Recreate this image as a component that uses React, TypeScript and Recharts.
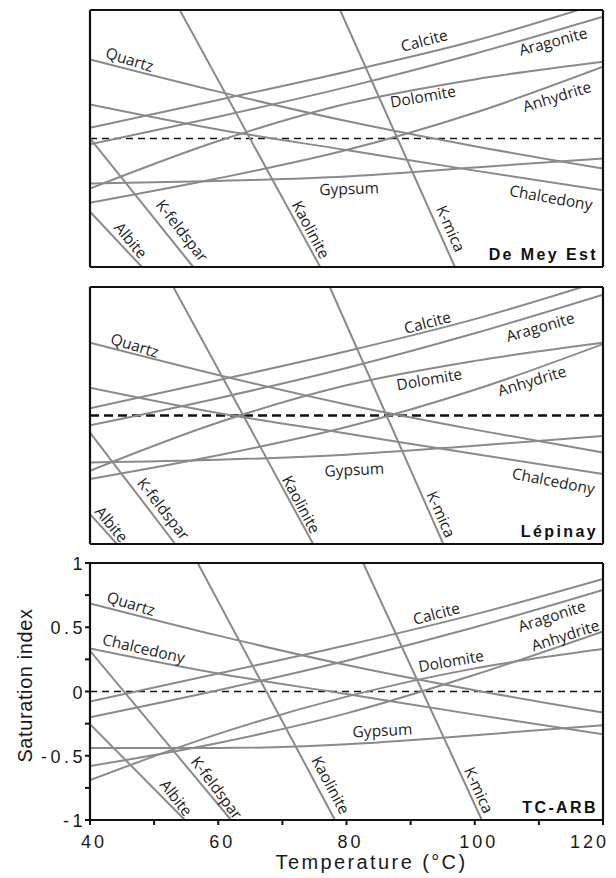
import React from 'react';
import { LineChart, Line, XAxis, YAxis, ReferenceLine, ReferenceDot } from 'recharts';

// ---------- shared axes ----------
const TEMPS = [40, 60, 80, 100, 120];
const X_TICKS = [40, 50, 60, 70, 80, 90, 100, 110, 120];
const Y_TICKS = [-1, -0.75, -0.5, -0.25, 0, 0.25, 0.5, 0.75, 1];
const X_LABELS = [40, 60, 80, 100, 120];
const Y_LABELS = [-1, -0.5, 0, 0.5, 1];

// ---------- De Mey Est (values at TEMPS) ----------
const DME_QUARTZ = [0.616, 0.365, 0.136, -0.06, -0.234];
const DME_CHALCEDONY = [0.265, 0.07, -0.09, -0.25, -0.402];
const DME_CALCITE = [0.083, 0.3, 0.52, 0.76, 1.06];
const DME_ARAGONITE = [-0.044, 0.17, 0.4, 0.66, 0.948];
const DME_DOLOMITE = [-0.39, -0.02, 0.27, 0.46, 0.597];
const DME_ANHYDRITE = [-0.5, -0.31, -0.09, 0.2, 0.558];
const DME_GYPSUM = [-0.35, -0.33, -0.295, -0.225, -0.156];
const DME_KAOLINITE_T = [54.0, 75.9];
const DME_KAOLINITE = [1, -1];
const DME_KMICA_T = [79.0, 96.9];
const DME_KMICA = [1, -1];
const DME_KFELDSPAR_T = [40, 56.1];
const DME_KFELDSPAR = [0.0, -1];
const DME_ALBITE_T = [40, 48.1];
const DME_ALBITE = [-0.57, -1];

// ---------- Lépinay ----------
const LEP_QUARTZ = [0.566, 0.315, 0.086, -0.11, -0.288];
const LEP_CHALCEDONY = [0.217, 0.02, -0.14, -0.3, -0.456];
const LEP_CALCITE = [0.056, 0.274, 0.5, 0.75, 1.05];
const LEP_ARAGONITE = [-0.076, 0.135, 0.37, 0.64, 0.94];
const LEP_DOLOMITE = [-0.43, -0.055, 0.235, 0.425, 0.566];
const LEP_ANHYDRITE = [-0.495, -0.31, -0.09, 0.2, 0.556];
const LEP_GYPSUM = [-0.366, -0.345, -0.305, -0.235, -0.159];
const LEP_KAOLINITE_T = [53.0, 74.8];
const LEP_KAOLINITE = [1, -1];
const LEP_KMICA_T = [77.4, 95.1];
const LEP_KMICA = [1, -1];
const LEP_KFELDSPAR_T = [40, 53.3];
const LEP_KFELDSPAR = [-0.133, -1];
const LEP_ALBITE_T = [40, 44.2];
const LEP_ALBITE = [-0.767, -1];

// ---------- TC-ARB ----------
const TCA_QUARTZ = [0.686, 0.435, 0.206, 0.01, -0.164];
const TCA_CHALCEDONY = [0.335, 0.14, -0.02, -0.18, -0.332];
const TCA_CALCITE = [-0.078, 0.14, 0.36, 0.6, 0.876];
const TCA_ARAGONITE = [-0.2, 0.01, 0.24, 0.5, 0.79];
const TCA_DOLOMITE = [-0.69, -0.33, -0.04, 0.18, 0.33];
const TCA_ANHYDRITE = [-0.58, -0.4, -0.17, 0.13, 0.468];
const TCA_GYPSUM = [-0.44, -0.44, -0.41, -0.34, -0.262];
const TCA_KAOLINITE_T = [56.8, 78.2];
const TCA_KAOLINITE = [1, -1];
const TCA_KMICA_T = [82.6, 101.1];
const TCA_KMICA = [1, -1];
const TCA_KFELDSPAR_T = [40, 62.0];
const TCA_KFELDSPAR = [0.317, -1];
const TCA_ALBITE_T = [40, 54.8];
const TCA_ALBITE = [-0.254, -1];

// ---------- label placement (temperature, SI, rotation) ----------
const DME_LABELS = [
  { name: 'Quartz', t: 46.2, si: 0.618, a: 17 },
  { name: 'Calcite', t: 92.1, si: 0.766, a: -15 },
  { name: 'Aragonite', t: 112.2, si: 0.759, a: -15 },
  { name: 'Dolomite', t: 91.9, si: 0.33, a: -10 },
  { name: 'Anhydrite', t: 112.8, si: 0.33, a: -17 },
  { name: 'Gypsum', t: 80.4, si: -0.387, a: -2 },
  { name: 'Chalcedony', t: 111.9, si: -0.457, a: 10 },
  { name: 'Albite', t: 46.4, si: -0.79, a: 50 },
  { name: 'K-feldspar', t: 54.4, si: -0.715, a: 52 },
  { name: 'Kaolinite', t: 74.5, si: -0.708, a: 62 },
  { name: 'K-mica', t: 96.3, si: -0.7, a: 66 },
];
const LEP_LABELS = [
  { name: 'Quartz', t: 47.0, si: 0.549, a: 17 },
  { name: 'Calcite', t: 92.6, si: 0.727, a: -15 },
  { name: 'Aragonite', t: 110.2, si: 0.692, a: -16 },
  { name: 'Dolomite', t: 92.9, si: 0.285, a: -10 },
  { name: 'Anhydrite', t: 108.9, si: 0.273, a: -17 },
  { name: 'Gypsum', t: 81.2, si: -0.418, a: -3 },
  { name: 'Chalcedony', t: 112.3, si: -0.507, a: 11 },
  { name: 'Albite', t: 43.4, si: -0.845, a: 50 },
  { name: 'K-feldspar', t: 51.5, si: -0.724, a: 52 },
  { name: 'Kaolinite', t: 73.0, si: -0.69, a: 62 },
  { name: 'K-mica', t: 94.8, si: -0.767, a: 66 },
];
const TCA_LABELS = [
  { name: 'Quartz', t: 46.4, si: 0.687, a: 17 },
  { name: 'Chalcedony', t: 48.4, si: 0.337, a: 13 },
  { name: 'Calcite', t: 94.0, si: 0.61, a: -15 },
  { name: 'Aragonite', t: 112.0, si: 0.59, a: -18 },
  { name: 'Anhydrite', t: 114.1, si: 0.44, a: -18 },
  { name: 'Dolomite', t: 96.3, si: 0.24, a: -10 },
  { name: 'Gypsum', t: 85.6, si: -0.3, a: -3 },
  { name: 'Albite', t: 53.5, si: -0.825, a: 52 },
  { name: 'K-feldspar', t: 59.8, si: -0.747, a: 53 },
  { name: 'Kaolinite', t: 77.6, si: -0.727, a: 62 },
  { name: 'K-mica', t: 100.7, si: -0.766, a: 66 },
];

const FONT_SANS = "'Liberation Sans', Arial, Helvetica, sans-serif";
const FONT_LABEL = "'Open Sans', 'Noto Sans', sans-serif";
const LINE_GRAY = '#8a8a8a';
const AXIS = '#111';

type Pt = { t: number; si: number };
const pts = (temps: number[], values: number[]): Pt[] => temps.map((t, i) => ({ t, si: values[i] }));

const makeSeries = (
  q: number[], ch: number[], ca: number[], ar: number[], dol: number[], anh: number[], gyp: number[],
  kaoT: number[], kao: number[], kmT: number[], km: number[], kfT: number[], kf: number[], abT: number[], ab: number[]
) => [
  { name: 'Quartz', data: pts(TEMPS, q) },
  { name: 'Chalcedony', data: pts(TEMPS, ch) },
  { name: 'Calcite', data: pts(TEMPS, ca) },
  { name: 'Aragonite', data: pts(TEMPS, ar) },
  { name: 'Dolomite', data: pts(TEMPS, dol) },
  { name: 'Anhydrite', data: pts(TEMPS, anh) },
  { name: 'Gypsum', data: pts(TEMPS, gyp) },
  { name: 'Kaolinite', data: pts(kaoT, kao) },
  { name: 'K-mica', data: pts(kmT, km) },
  { name: 'K-feldspar', data: pts(kfT, kf) },
  { name: 'Albite', data: pts(abT, ab) },
];

const DME_SERIES = makeSeries(DME_QUARTZ, DME_CHALCEDONY, DME_CALCITE, DME_ARAGONITE, DME_DOLOMITE, DME_ANHYDRITE, DME_GYPSUM,
  DME_KAOLINITE_T, DME_KAOLINITE, DME_KMICA_T, DME_KMICA, DME_KFELDSPAR_T, DME_KFELDSPAR, DME_ALBITE_T, DME_ALBITE);
const LEP_SERIES = makeSeries(LEP_QUARTZ, LEP_CHALCEDONY, LEP_CALCITE, LEP_ARAGONITE, LEP_DOLOMITE, LEP_ANHYDRITE, LEP_GYPSUM,
  LEP_KAOLINITE_T, LEP_KAOLINITE, LEP_KMICA_T, LEP_KMICA, LEP_KFELDSPAR_T, LEP_KFELDSPAR, LEP_ALBITE_T, LEP_ALBITE);
const TCA_SERIES = makeSeries(TCA_QUARTZ, TCA_CHALCEDONY, TCA_CALCITE, TCA_ARAGONITE, TCA_DOLOMITE, TCA_ANHYDRITE, TCA_GYPSUM,
  TCA_KAOLINITE_T, TCA_KAOLINITE, TCA_KMICA_T, TCA_KMICA, TCA_KFELDSPAR_T, TCA_KFELDSPAR, TCA_ALBITE_T, TCA_ALBITE);

const renderYTick = (p: any) => {
  const v = p.payload?.value;
  if (!Y_LABELS.includes(v)) return <g />;
  return (
    <text x={p.x + 3} y={p.y + 7} textAnchor="end" fontFamily={FONT_SANS} fontSize={18} letterSpacing={3.5} fill="#1a1a1a">
      {String(v)}
    </text>
  );
};

const renderXTick = (p: any) => {
  const v = p.payload?.value;
  if (!X_LABELS.includes(v)) return <g />;
  const last = v === X_LABELS[X_LABELS.length - 1];
  return (
    <text x={last ? p.x + 6 : p.x + 4} y={p.y + 21} textAnchor={last ? 'end' : 'middle'}
      fontFamily={FONT_SANS} fontSize={18} letterSpacing={3} fill="#1a1a1a">
      {String(v)}
    </text>
  );
};

const renderXTitle = (p: any) => {
  const vb = p.viewBox || {};
  return (
    <text x={vb.x + vb.width / 2 + 25} y={vb.y + 49} textAnchor="middle" fontFamily={FONT_SANS}
      fontSize={20} letterSpacing={2.4} fill="#1a1a1a">
      Temperature (°C)
    </text>
  );
};

const renderYTitle = (p: any) => {
  const vb = p.viewBox || {};
  const cx = 32;
  const cy = vb.y + vb.height / 2 - 6;
  return (
    <text x={cx} y={cy} transform={`rotate(-90 ${cx} ${cy})`} textAnchor="middle" fontFamily={FONT_SANS}
      fontSize={20} letterSpacing={0.6} fill="#1a1a1a">
      Saturation index
    </text>
  );
};

type PanelProps = {
  series: { name: string; data: Pt[] }[];
  labels: { name: string; t: number; si: number; a: number }[];
  title: string;
  top: number;
  bottom: boolean;
  dashWidth: number;
  dash: string;
};

function Panel({ series, labels, title, top, bottom, dashWidth, dash }: PanelProps) {
  const xh = bottom ? 58 : 10;
  return (
    <div style={{ position: 'absolute', left: 0, top }}>
      <LineChart width={616} height={10 + 257 + xh} margin={{ top: 10, right: 13, bottom: 0, left: 0 }}>
        <XAxis
          type="number"
          dataKey="t"
          domain={[40, 120]}
          ticks={X_TICKS}
          interval={0}
          allowDataOverflow
          height={xh}
          tickSize={5}
          tickLine={{ stroke: AXIS, strokeWidth: 2 }}
          axisLine={{ stroke: AXIS, strokeWidth: 2.2 }}
          tick={bottom ? renderXTick : false}
          label={bottom ? renderXTitle : undefined}
        />
        <YAxis
          type="number"
          dataKey="si"
          domain={[-1, 1]}
          ticks={Y_TICKS}
          interval={0}
          allowDataOverflow
          width={90}
          tickSize={5}
          tickLine={{ stroke: AXIS, strokeWidth: 2 }}
          axisLine={{ stroke: AXIS, strokeWidth: 2.2 }}
          tick={bottom ? renderYTick : false}
          label={bottom ? renderYTitle : undefined}
        />
        <ReferenceLine y={0} stroke="#111" strokeWidth={dashWidth} strokeDasharray={dash} />
        {series.map((s) => (
          <Line
            key={s.name}
            data={s.data}
            dataKey="si"
            type="monotone"
            stroke={LINE_GRAY}
            strokeWidth={2}
            dot={false}
            activeDot={false}
            isAnimationActive={false}
          />
        ))}
        <ReferenceLine y={1} stroke={AXIS} strokeWidth={2.2} />
        <ReferenceLine x={120} stroke={AXIS} strokeWidth={2.2} />
        {labels.map((l) => (
          <ReferenceDot
            key={l.name}
            x={l.t}
            y={l.si}
            r={0}
            shape={(p: any) => (
              <text
                x={p.cx}
                y={p.cy}
                transform={`rotate(${l.a} ${p.cx} ${p.cy})`}
                textAnchor="middle"
                dominantBaseline="central"
                fontFamily={FONT_LABEL}
                fontSize={15.5}
                fill="#1e1e1e"
              >
                {l.name}
              </text>
            )}
          />
        ))}
        <ReferenceDot
          x={120}
          y={-1}
          r={0}
          shape={(p: any) => (
            <text x={p.cx - 5} y={p.cy - 7} textAnchor="end" fontFamily={FONT_SANS} fontWeight="bold"
              fontSize={16} letterSpacing={2.4} fill="#111">
              {title}
            </text>
          )}
        />
      </LineChart>
    </div>
  );
}

export default function App() {
  return (
    <div style={{ position: 'absolute', left: 0, top: 0, width: 616, height: 878, background: '#fff' }}>
      <Panel series={DME_SERIES} labels={DME_LABELS} title="De Mey Est" top={0} bottom={false} dashWidth={1.4} dash="7 5" />
      <Panel series={LEP_SERIES} labels={LEP_LABELS} title="Lépinay" top={277} bottom={false} dashWidth={2.4} dash="9 5" />
      <Panel series={TCA_SERIES} labels={TCA_LABELS} title="TC-ARB" top={553} bottom={true} dashWidth={1.4} dash="7 5" />
    </div>
  );
}
